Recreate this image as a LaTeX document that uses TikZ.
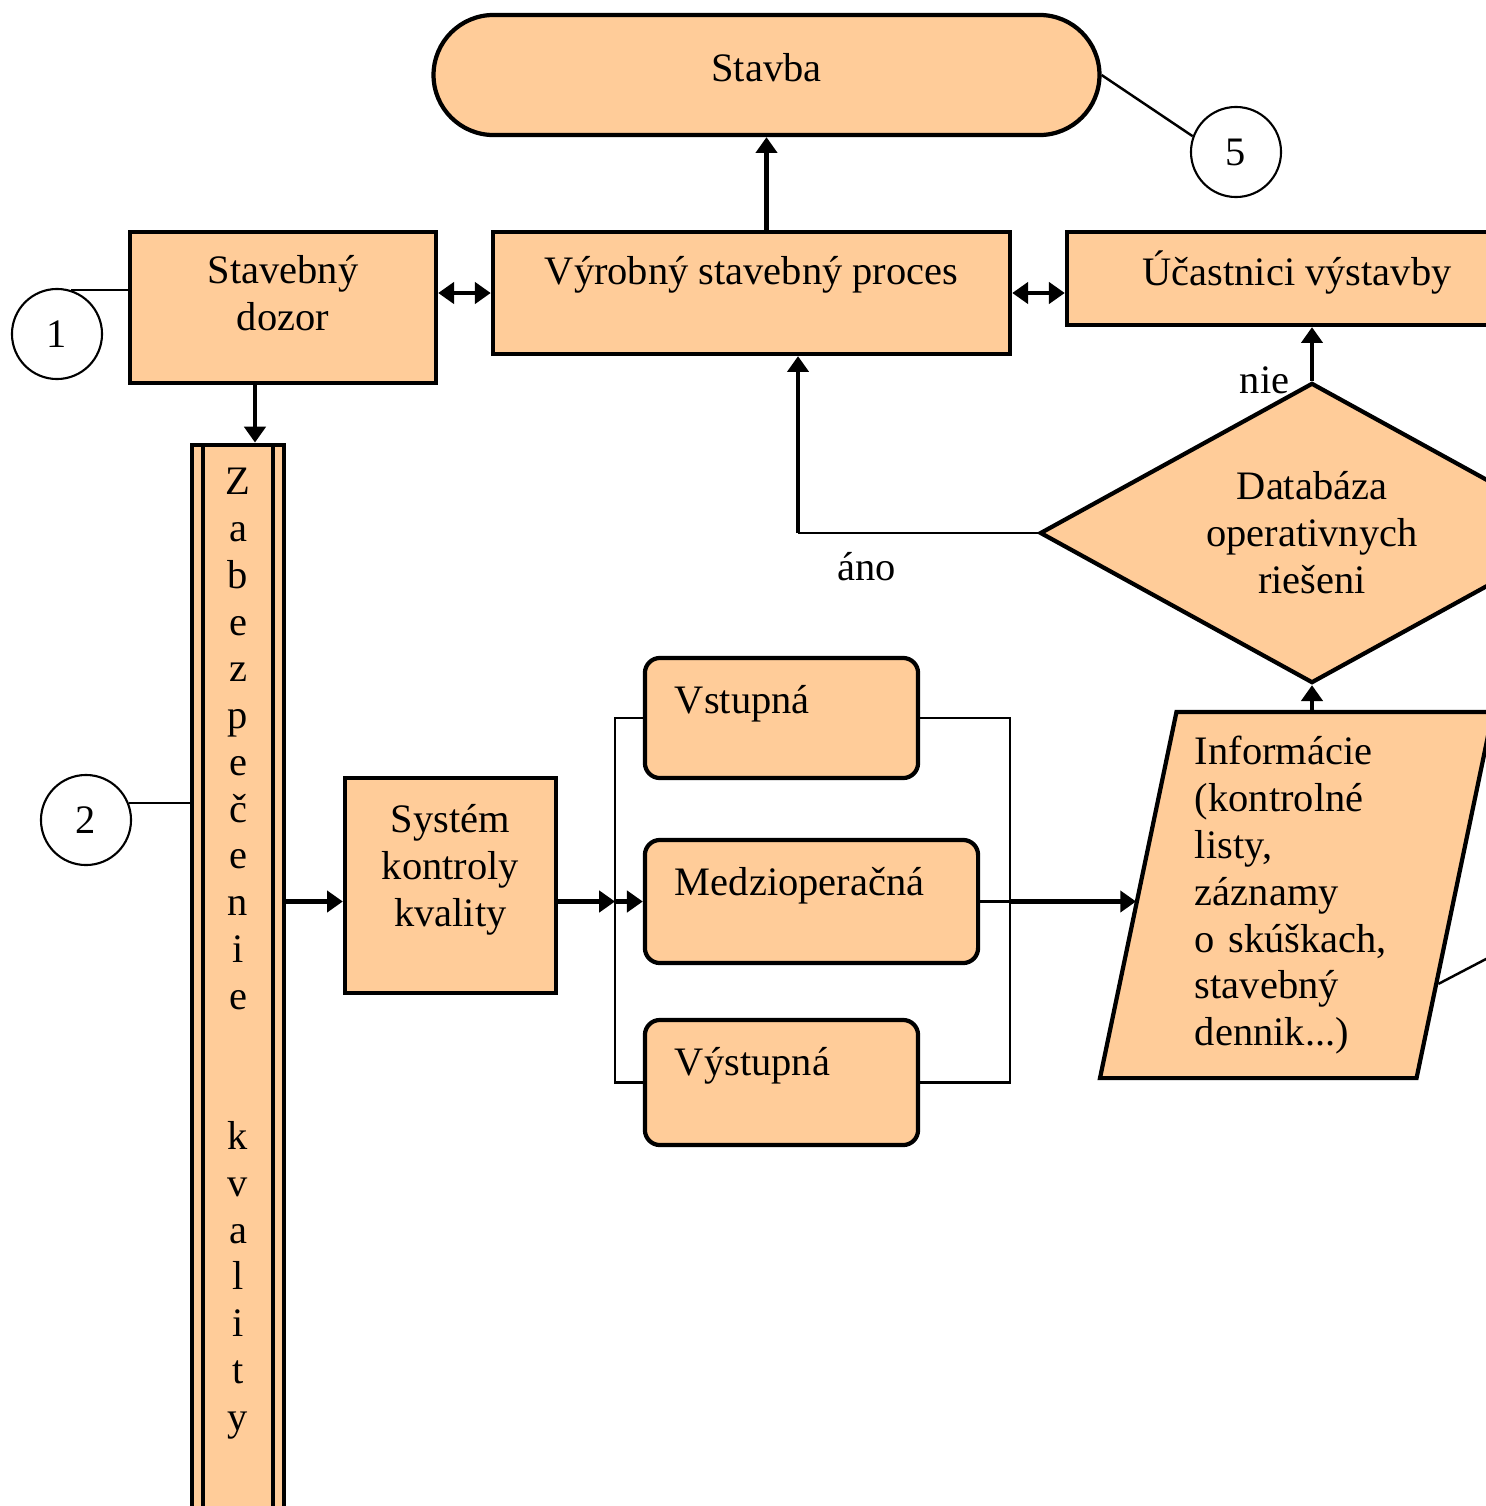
\documentclass[tikz,border=0pt]{standalone}
\usepackage{fontspec}
\setmainfont{Liberation Serif}
\usetikzlibrary{arrows.meta,shapes.geometric,shapes.misc,calc}
\definecolor{peach}{RGB}{255,204,153}

\begin{document}
\begin{tikzpicture}[x=0.01cm, y=-0.01cm,
    every node/.style={font=\fontsize{11.5pt}{13.3pt}\selectfont},
    box/.style={draw, line width=1.2pt, fill=peach, text height=0.28cm, align=center},
    term/.style={box, rounded rectangle},
    soft/.style={box, rounded corners=0.15cm, align=left, inner xsep=0.3cm},
    predef/.style={box, path picture={
        \draw[line width=1.2pt]
          ([xshift=0.11cm]path picture bounding box.north west) -- ([xshift=0.11cm]path picture bounding box.south west)
          ([xshift=-0.11cm]path picture bounding box.north east) -- ([xshift=-0.11cm]path picture bounding box.south east);}},
    num/.style={circle, draw, line width=0.6pt, minimum size=0.9cm, inner sep=0pt},
    lbl/.style={inner sep=0pt},
    thinline/.style={line width=0.7pt},
    arr/.style={line width=1.4pt, -{Triangle[length=4.5pt,width=6pt]}},
    dbl/.style={line width=1.4pt, {Triangle[length=4.5pt,width=6pt]}-{Triangle[length=4.5pt,width=6pt]}}]
  \useasboundingbox (0,0) rectangle (1486,1506);
  \clip (0,0) rectangle (1486,1506);

  % top row
  \node[term, minimum width=6.89cm, minimum height=1.2cm, text depth=0.16cm] (stavba) at (766.5,75) {Stavba};
  \node[box, minimum width=3.06cm, minimum height=1.51cm, text width=2.5cm, text depth=0.75cm] (dozor) at (283,307.5) {Stavebný\\dozor};
  \node[box, minimum width=5.17cm, minimum height=1.22cm, text depth=0.44cm] (vyr) at (751.5,293) {Výrobný stavebný proces};
  \node[box, minimum width=4.6cm, minimum height=0.93cm, text depth=0.15cm] (ucast) at (1297,278.5) {Účastnici výstavby};

  % left column
  \node[predef, minimum width=0.92cm, minimum height=11.55cm, text width=0.6cm, text depth=10.83cm] (bar) at (238,1022.5)
    {Z\\a\\b\\e\\z\\p\\e\\č\\e\\n\\i\\e\\~\\~\\k\\v\\a\\l\\i\\t\\y};
  \node[box, minimum width=2.11cm, minimum height=2.15cm, text width=1.8cm, text depth=1.33cm] (sys) at (450.5,885.5) {Systém\\kontroly\\kvality};

  % kinds of control
  \node[soft, minimum width=2.73cm, minimum height=1.2cm, text width=2.13cm, text depth=0.38cm] (vst) at (781.5,718) {Vstupná};
  \node[soft, minimum width=3.33cm, minimum height=1.23cm, text width=2.73cm, text depth=0.41cm] (med) at (811.5,901.5) {Medzioperačná};
  \node[soft, minimum width=2.73cm, minimum height=1.25cm, text width=2.13cm, text depth=0.43cm] (vys) at (781.5,1082.5) {Výstupná};
  \coordinate (brL) at (615,901.5);
  \coordinate (brR) at (1010,901.5);

  % right column
  \node[box, diamond, shape aspect=1.8, inner sep=0pt, minimum width=5.44cm, minimum height=3cm, text width=2.4cm, text depth=0.94cm] (dia) at (1312,533)
    {Databáza\\operativnych\\riešeni};
  \node[box, trapezium, trapezium left angle=78, trapezium right angle=102, trapezium stretches=true,
        minimum width=3.93cm, minimum height=3.66cm, text width=2.03cm, align=left, text depth=2.88cm] (info) at (1296.5,895)
    {Informácie\\(kontrolné\\listy,\\záznamy\\o skúškach,\\stavebný\\dennik...)};

  % numbered markers
  \node[num] (c1) at (57,334) {1};
  \node[num] (c2) at (86,820) {2};
  \node[num] (c5) at (1236,152) {5};
  \coordinate (c3) at (1530,936);
  \draw[thinline] (c1.72) -- (c1.72 -| dozor.west);
  \draw[thinline] (c2.22) -- (c2.22 -| bar.west);
  \draw[thinline] (stavba.east) -- (c5.160);
  \draw[thinline] ($(info.bottom right corner)!0.26!(info.top right corner)$) -- (c3);

  % connectors
  \draw[arr] (stavba.south |- vyr.north) -- (stavba.south);
  \draw[dbl] (dozor.east |- vyr.west) -- (vyr.west);
  \draw[dbl] (vyr.east) -- (ucast.west |- vyr.east);
  \draw[arr] ([xshift=-0.28cm]dozor.south) -- ([xshift=-0.28cm]dozor.south |- bar.north);
  \draw[arr] (bar.east |- med.west) -- (sys.west |- med.west);
  \draw[arr] (sys.east |- med.west) -- (brL);
  \draw[arr] (brL) -- (med.west);
  \draw[thinline] (vst.west) -| (brL) |- (vys.west);
  \draw[thinline] (vst.east) -| (brR) |- (vys.east);
  \draw[thinline] (med.east) -- (brR);
  \draw[arr] (brR) -- (info.west |- brR);
  \draw[arr] (dia.south |- info.north) -- (dia.south);
  \draw[arr] (dia.north) -- (dia.north |- ucast.south);
  \coordinate (turn) at ([xshift=0.465cm]vyr.south |- dia.west);
  \draw[thinline] (dia.west) -- (turn);
  \draw[arr] (turn) -- ([xshift=0.465cm]vyr.south);
  \node[lbl, anchor=base east] (nie) at (1290,393) {nie};
  \node[lbl, anchor=base] (ano) at (867,580) {áno};
\end{tikzpicture}
\end{document}
